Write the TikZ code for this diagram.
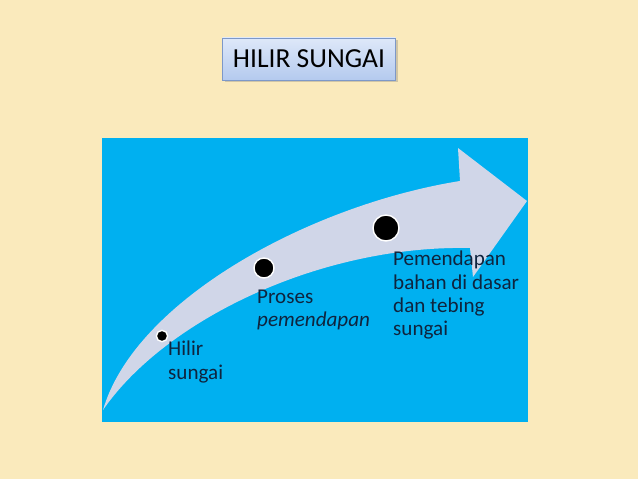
\documentclass[tikz,border=0pt]{standalone}
\usepackage{fontspec}
\setmainfont{Carlito}
\usetikzlibrary{shadows}
\definecolor{kertas}{RGB}{250,234,188}
\definecolor{biru}{RGB}{0,176,240}
\definecolor{panah}{RGB}{208,214,232}
\definecolor{teks}{RGB}{15,36,62}
\definecolor{kotakatas}{RGB}{222,232,249}
\definecolor{kotakbawah}{RGB}{180,202,238}
\definecolor{garis}{RGB}{125,152,200}

\begin{document}
\begin{tikzpicture}[x=0.03cm,y=-0.03cm,
  titik/.style={circle,fill=black,draw=white,line width=1.2pt,inner sep=0pt},
  keterangan/.style={anchor=north west,inner sep=0pt,align=left,text=teks,
    font=\fontsize{18}{19.8}\selectfont}]
% latar
\fill[kertas] (0,0) rectangle (638,479);
\fill[biru] (102,138) rectangle (528,422);

% panah melengkung
\fill[panah] (103,410) .. controls (135,300) and (310,205) .. (460,181)
  -- (458,148) -- (527,201) -- (473,277) -- (470,248)
  .. controls (320,245) and (165,320) .. (103,410) -- cycle;

% judul
\node[draw=garis,top color=kotakatas,bottom color=kotakbawah,
  drop shadow={opacity=0.35,shadow xshift=0.07cm,shadow yshift=-0.07cm},
  minimum width=5.19cm,minimum height=1.26cm,
  font=\fontsize{23.5}{27}\selectfont] (judul) at (309,59) {HILIR SUNGAI};

% titik
\node[titik,minimum size=0.34cm] (t1) at (162,336) {};
\node[titik,minimum size=0.6cm] (t2) at (264,268) {};
\node[titik,minimum size=0.78cm] (t3) at (386,228) {};

% keterangan
\node[keterangan] (k1) at (168,341) {Hilir\\sungai};
\node[keterangan] (k2) at (257,290) {Proses\\\textit{pemendapan}};
\node[keterangan] (k3) at (393,251) {Pemendapan\\bahan di dasar\\dan tebing\\sungai};
\end{tikzpicture}
\end{document}
